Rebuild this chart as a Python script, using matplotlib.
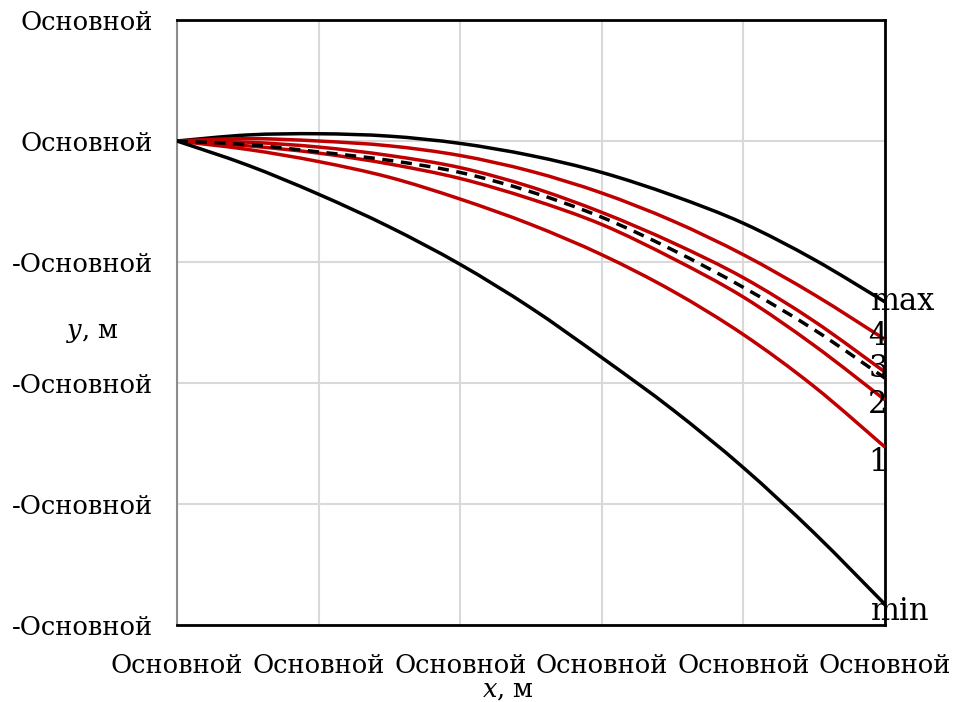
import matplotlib

matplotlib.use("Agg")
import matplotlib.pyplot as plt
from matplotlib.path import Path
from matplotlib.patches import PathPatch

plt.rcParams["font.family"] = ["DejaVu Serif"]
plt.rcParams["mathtext.fontset"] = "dejavuserif"

# --- data -----------------------------------------------------------------
x_vals = [0, 0.5, 1, 1.5, 2, 2.5, 3, 3.5, 4, 4.5, 5]

y_max = [0, 0.05, 0.06, 0.04, -0.02, -0.12, -0.26, -0.45, -0.68, -0.98, -1.33]
y_4 = [0, 0.02, 0.0, -0.04, -0.12, -0.25, -0.43, -0.66, -0.94, -1.27, -1.64]
y_3 = [0, -0.01, -0.05, -0.12, -0.22, -0.38, -0.59, -0.84, -1.13, -1.49, -1.91]
y_mid = [0, -0.03, -0.09, -0.16, -0.26, -0.42, -0.63, -0.90, -1.21, -1.56, -1.96]
y_2 = [0, -0.04, -0.10, -0.19, -0.31, -0.48, -0.69, -0.97, -1.29, -1.69, -2.14]
y_1 = [0, -0.07, -0.17, -0.30, -0.48, -0.69, -0.94, -1.24, -1.60, -2.03, -2.53]
y_min = [0, -0.20, -0.44, -0.71, -1.02, -1.38, -1.79, -2.22, -2.70, -3.24, -3.83]

x_ticks = [0, 1, 2, 3, 4, 5]
y_ticks = [1, 0, -1, -2, -3, -4]
x_tick_labels = ["Основной"] * 6
y_tick_labels = ["Основной", "Основной", "-Основной", "-Основной", "-Основной", "-Основной"]

RED = "#c00000"
LW = 2.5
FS = 18.5


def smooth_line(ax, xs, ys, **kw):
    """Draw a smoothed line (Catmull-Rom style bezier) through the points."""
    n = len(xs)
    verts = [(xs[0], ys[0])]
    codes = [Path.MOVETO]
    for i in range(n - 1):
        x0, y0 = (xs[i - 1], ys[i - 1]) if i > 0 else (xs[i], ys[i])
        x1, y1 = xs[i], ys[i]
        x2, y2 = xs[i + 1], ys[i + 1]
        x3, y3 = (xs[i + 2], ys[i + 2]) if i + 2 < n else (x2, y2)
        c1 = (x1 + (x2 - x0) / 6, y1 + (y2 - y0) / 6)
        c2 = (x2 - (x3 - x1) / 6, y2 - (y3 - y1) / 6)
        verts += [c1, c2, (x2, y2)]
        codes += [Path.CURVE4] * 3
    patch = PathPatch(Path(verts, codes), fill=False, capstyle="butt", **kw)
    ax.add_patch(patch)


fig = plt.figure(figsize=(9.54, 7.02), dpi=100)
ax = fig.add_axes([0.1855, 0.1097, 0.7422, 0.8618])

smooth_line(ax, x_vals, y_max, edgecolor="black", lw=LW, zorder=3)
smooth_line(ax, x_vals, y_4, edgecolor=RED, lw=LW, zorder=3)
smooth_line(ax, x_vals, y_3, edgecolor=RED, lw=LW, zorder=3)
smooth_line(ax, x_vals, y_2, edgecolor=RED, lw=LW, zorder=3)
smooth_line(ax, x_vals, y_1, edgecolor=RED, lw=LW, zorder=3)
smooth_line(ax, x_vals, y_mid, edgecolor="black", lw=LW, ls=(0, (3.2, 2.2)), zorder=4)
smooth_line(ax, x_vals, y_min, edgecolor="black", lw=LW, zorder=3)

# end-of-line labels
end_labels = [
    ("max", y_max[-1], 18, 0),
    ("4", y_4[-1], -7, 3),
    ("3", y_3[-1], -7, 4),
    ("2", y_2[-1], -7, -5),
    ("1", y_1[-1], -7, -15),
    ("min", y_min[-1], 15, -7),
]
for txt, yv, dx, dy in end_labels:
    ax.annotate(txt, (x_vals[-1], yv), xytext=(dx, dy), textcoords="offset pixels",
                ha="center", va="center", fontsize=22, zorder=5,
                annotation_clip=False)

ax.set_xlim(0, 5)
ax.set_ylim(-4, 1)
ax.set_xticks(x_ticks)
ax.set_yticks(y_ticks)
ax.set_xticklabels(x_tick_labels, fontsize=FS)
ax.set_yticklabels(y_tick_labels, fontsize=FS)
ax.tick_params(axis="both", length=0)
ax.tick_params(axis="x", pad=20)
ax.tick_params(axis="y", pad=17)

ax.grid(True, color="#d9d9d9", lw=1.5)
ax.set_axisbelow(True)

for side in ("top", "right", "bottom"):
    ax.spines[side].set_color("black")
    ax.spines[side].set_linewidth(2)
ax.spines["left"].set_color("#8c8c8c")
ax.spines["left"].set_linewidth(1.5)

ax.set_xlabel(r"$x$, м", fontsize=FS, va="center", ha="center")
ax.xaxis.set_label_coords(0.4675, -0.107)
ax.set_ylabel(r"$y$, м", fontsize=FS, rotation=0, va="center", ha="center")
ax.yaxis.set_label_coords(-0.12, 0.484)

fig.savefig("out.png", dpi=100)
